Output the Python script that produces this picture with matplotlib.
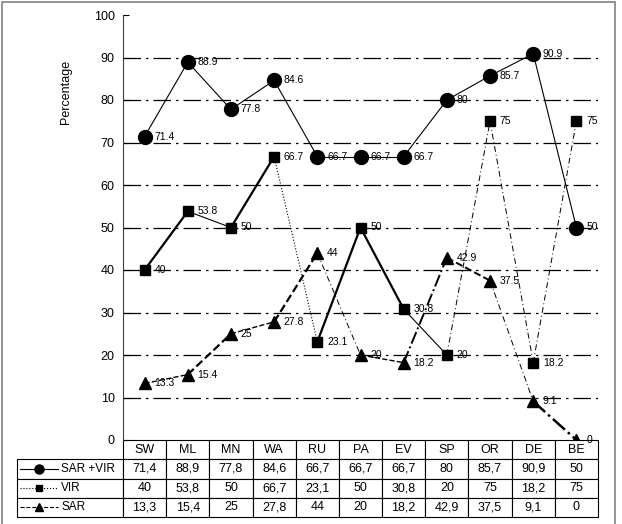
import matplotlib
matplotlib.use('Agg')
import matplotlib.pyplot as plt
from matplotlib.table import Table
from matplotlib.patches import Rectangle
import numpy as np

plt.rcParams['font.family'] = ['Liberation Sans', 'DejaVu Sans']

cats = ['SW', 'ML', 'MN', 'WA', 'RU', 'PA', 'EV', 'SP', 'OR', 'DE', 'BE']
sar_vir = [71.4, 88.9, 77.8, 84.6, 66.7, 66.7, 66.7, 80, 85.7, 90.9, 50]
vir = [40, 53.8, 50, 66.7, 23.1, 50, 30.8, 20, 75, 18.2, 75]
sar = [13.3, 15.4, 25, 27.8, 44, 20, 18.2, 42.9, 37.5, 9.1, 0]
names = ['SAR +VIR', 'VIR', 'SAR']
yticks = list(range(0, 101, 10))

# line style of each segment (the original is drawn a bit unevenly)
dd = (0, (6, 3, 1, 3))
seg_svir = [('-', 0.8)] * 10
seg_vir = [('-', 1.6), ('-', 0.8), ('-', 1.6), (':', 0.8), ('-', 1.6),
           ('-', 1.6), ('-', 0.8), (dd, 0.7), (dd, 0.7), (dd, 0.7)]
seg_sar = [('--', 1.0), ('--', 1.6), ('--', 1.0), ('--', 1.6), (dd, 0.7),
           ('--', 1.0), ('-.', 1.4), ('--', 1.4), (dd, 0.7), ('-.', 1.8)]

series = [(sar_vir, seg_svir, 'o', 10), (vir, seg_vir, 's', 7), (sar, seg_sar, '^', 8)]

fig = plt.figure(figsize=(6.22, 5.24), dpi=100)
ax = fig.add_axes([123/622, 84/524, 475/622, 425/524])

x = np.arange(len(cats))
for vals, segs, mk, ms in series:
    for i in range(len(vals) - 1):
        ls, lw = segs[i]
        ax.plot(x[i:i+2], vals[i:i+2], color='k', ls=ls, lw=lw, zorder=3)
    ax.plot(x, vals, ls='none', marker=mk, ms=ms, color='k', zorder=4)
    for xi, v in zip(x, vals):
        ax.annotate('%g' % v, (xi, v), xytext=(7, 0), textcoords='offset points',
                    va='center', ha='left', fontsize=7.5, zorder=5)

ax.set_xlim(-0.5, 10.5)
ax.set_ylim(0, 100)
ax.set_yticks(yticks)
ax.set_xticks([])
ax.tick_params(axis='y', direction='in', length=4, labelsize=9, pad=6)
for s in ['top', 'right', 'bottom']:
    ax.spines[s].set_visible(False)
ax.spines['left'].set_color('0.25')

ax.yaxis.grid(True, color='k', lw=0.9, dashes=(14, 4, 2, 4))
gl = ax.get_ygridlines()
gl[0].set_visible(False)
gl[-1].set_visible(False)

ax.set_ylabel('Percentage', fontsize=9)
ax.yaxis.set_label_coords(-0.107, 0.82)

# data table under the chart (bbox covers the data columns, labels stick out left)
lab_w = 106 / 475
dat_w = 1 / 11
tb = Table(ax, bbox=[0, -77/425, 1, 77/425])
for j, c in enumerate(cats):
    tb.add_cell(0, j, dat_w, 1, text=c, loc='center')
for r, vals in enumerate([sar_vir, vir, sar]):
    tb.add_cell(r + 1, -1, lab_w, 1, text='', loc='left')
    for j, v in enumerate(vals):
        tb.add_cell(r + 1, j, dat_w, 1, text=('%g' % v).replace('.', ','), loc='center')
for cell in tb.get_celld().values():
    cell.set_linewidth(0.8)
tb.auto_set_font_size(False)
tb.set_fontsize(9)
ax.add_table(tb)

# legend glyphs in row labels
glyph_ls = ['-', ':', '--']
for r, (name, (vals, segs, mk, ms)) in enumerate(zip(names, series)):
    yc = -(77/4 * (r + 1) + 77/8) / 425
    ax.plot([-0.2168, -0.1368], [yc, yc], color='k', ls=glyph_ls[r], lw=0.8,
            transform=ax.transAxes, clip_on=False)
    ax.plot([-0.1768], [yc], marker=mk, ms=ms * 0.65, color='k',
            transform=ax.transAxes, clip_on=False)
    ax.text(-0.1305, yc, name, transform=ax.transAxes, va='center', ha='left', fontsize=8.5)

fig.add_artist(Rectangle((2/622, -0.02), 613/622, 522/524 + 0.02, transform=fig.transFigure,
                         fill=False, edgecolor='0.5', lw=1.2))

fig.savefig('out.png', dpi=100)
